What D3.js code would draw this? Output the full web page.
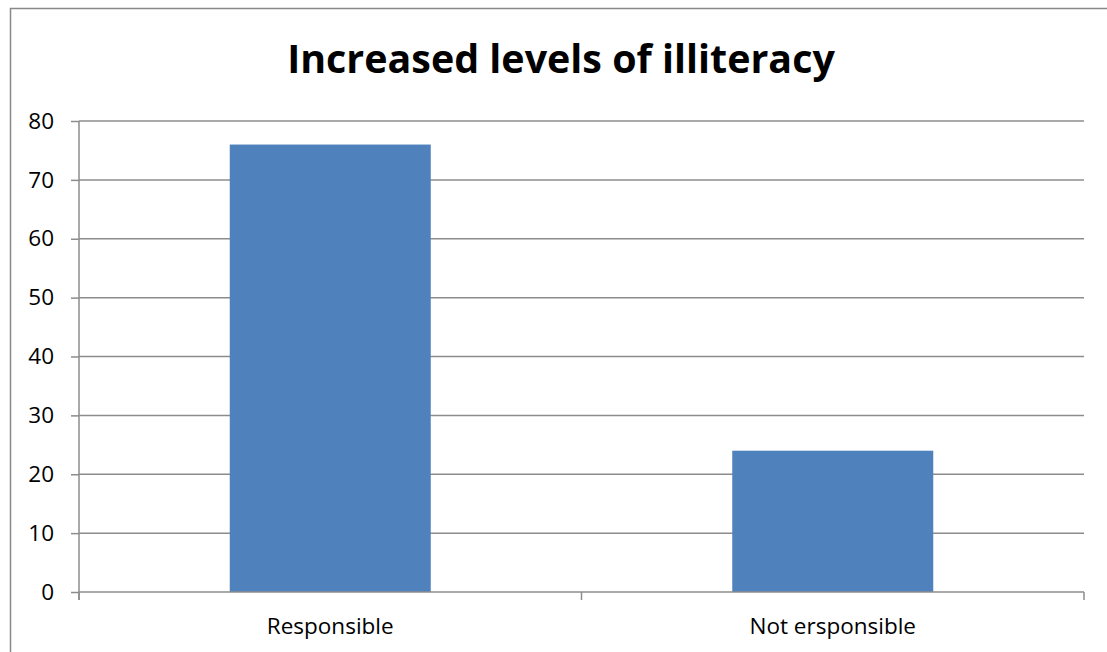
<!DOCTYPE html>
<html>
<head>
<meta charset="utf-8">
<script src="https://cdn.jsdelivr.net/npm/d3@7"></script>
<style>
  html, body { margin: 0; padding: 0; background: #fff; }
  svg { display: block; }
</style>
</head>
<body>
<svg id="chart" width="1107" height="652"></svg>
<script>
// Survey responses on increased levels of illiteracy
const categories = ["Responsible", "Not ersponsible"];
const values = [76, 24];
const yTicks = [0, 10, 20, 30, 40, 50, 60, 70, 80];
const title = "Increased levels of illiteracy";

const svg = d3.select("#chart");
const W = 1107, H = 652;
const margin = { left: 79, right: 1084, top: 121, bottom: 592 };

// Outer chart frame
svg.append("rect")
  .attr("x", 10.5).attr("y", 8.5)
  .attr("width", W + 20).attr("height", H + 20)
  .attr("fill", "#fff")
  .attr("stroke", "#888").attr("stroke-width", 1.5);

const x = d3.scaleBand()
  .domain(categories)
  .range([margin.left, margin.right])
  .paddingInner(0.6).paddingOuter(0.3);

const y = d3.scaleLinear()
  .domain([0, 80])
  .range([margin.bottom, margin.top]);

const font = "Open Sans, 'Noto Sans', sans-serif";
const labelSize = 22.5;

// Horizontal gridlines
svg.append("g")
  .selectAll("line")
  .data(yTicks.filter(d => d > 0))
  .join("line")
  .attr("x1", margin.left).attr("x2", margin.right)
  .attr("y1", d => y(d)).attr("y2", d => y(d))
  .attr("stroke", "#8c8c8c").attr("stroke-width", 1.5);

// Bars
svg.append("g")
  .selectAll("rect")
  .data(categories.map((c, i) => ({ c, v: values[i] })))
  .join("rect")
  .attr("x", d => x(d.c))
  .attr("width", x.bandwidth())
  .attr("y", d => y(d.v))
  .attr("height", d => y(0) - y(d.v))
  .attr("fill", "#4F81BD");

// Y axis
const yAxis = d3.axisLeft(y).tickValues(yTicks).tickSize(8).tickPadding(17);
const gy = svg.append("g")
  .attr("transform", `translate(${margin.left},0)`)
  .call(yAxis);
gy.select(".domain").attr("stroke", "#8c8c8c").attr("stroke-width", 1.5)
  .attr("d", `M0,${margin.top}V${margin.bottom + 8}`);
gy.selectAll(".tick line").attr("stroke", "#8c8c8c").attr("stroke-width", 1.5);
gy.selectAll(".tick text")
  .attr("font-family", font).attr("font-size", labelSize).attr("fill", "#000");

// X axis with category separators
const step = (margin.right - margin.left) / categories.length;
const gx = svg.append("g");
gx.append("line")
  .attr("x1", margin.left).attr("x2", margin.right)
  .attr("y1", y(0)).attr("y2", y(0))
  .attr("stroke", "#8c8c8c").attr("stroke-width", 1.5);
gx.selectAll("line.sep")
  .data(d3.range(categories.length + 1))
  .join("line")
  .attr("class", "sep")
  .attr("x1", i => margin.left + i * step).attr("x2", i => margin.left + i * step)
  .attr("y1", y(0)).attr("y2", y(0) + 8)
  .attr("stroke", "#8c8c8c").attr("stroke-width", 1.5);
gx.selectAll("text")
  .data(categories)
  .join("text")
  .attr("x", d => x(d) + x.bandwidth() / 2)
  .attr("y", 634)
  .attr("text-anchor", "middle")
  .attr("font-family", font).attr("font-size", labelSize).attr("fill", "#000")
  .text(d => d);

// Title
svg.append("text")
  .attr("x", 561).attr("y", 73)
  .attr("text-anchor", "middle")
  .attr("font-family", font).attr("font-weight", "bold")
  .attr("font-size", 39.4).attr("fill", "#000")
  .text(title);
</script>
</body>
</html>
